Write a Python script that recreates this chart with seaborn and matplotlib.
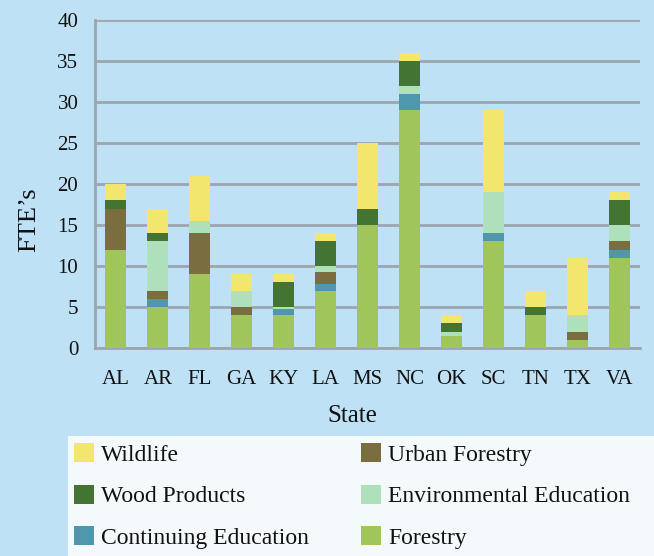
import matplotlib
matplotlib.use("Agg")
import matplotlib.pyplot as plt
import seaborn as sns
import numpy as np
import pandas as pd
from matplotlib.patches import Patch, Rectangle

states = ["AL", "AR", "FL", "GA", "KY", "LA", "MS", "NC", "OK", "SC", "TN", "TX", "VA"]
forestry =      [12, 5, 9, 4, 4, 7, 15, 29, 1.5, 13, 4, 1, 11]
continuing_ed = [0, 1, 0, 0, 0.7, 0.8, 0, 2, 0, 1, 0, 0, 1]
urban =         [5, 1, 5, 1, 0, 1.5, 0, 0, 0, 0, 0, 1, 1]
env_ed =        [0, 6, 1.5, 2, 0.3, 0.7, 0, 1, 0.5, 5, 0, 2, 2]
wood =          [1, 1, 0, 0, 3, 3, 2, 3, 1, 0, 1, 0, 3]
wildlife =      [2, 3, 5.5, 2, 1, 1, 8, 1, 1, 10, 2, 7, 1]

series = [
    ("Forestry", forestry, "#a0c55a"),
    ("Continuing Education", continuing_ed, "#4e97ad"),
    ("Urban Forestry", urban, "#7a6e40"),
    ("Environmental Education", env_ed, "#aee0bb"),
    ("Wood Products", wood, "#437434"),
    ("Wildlife", wildlife, "#f3e66e"),
]

bg = "#bfe1f6"
sns.set_theme(style="white")
plt.rcParams["font.family"] = ["Liberation Serif", "DejaVu Serif"]

W, H = 654, 556
fig = plt.figure(figsize=(6.54, 5.56), dpi=100, facecolor=bg)
ax = fig.add_axes([95 / W, 1 - 348 / H, 545 / W, 328 / H])
ax.set_facecolor(bg)

bottom = np.zeros(len(states))
for name, vals, col in series:
    df = pd.DataFrame({"State": states, "FTE": vals})
    sns.barplot(data=df, x="State", y="FTE", order=states, color=col,
                width=0.5, bottom=bottom.copy(), ax=ax, saturation=1,
                errorbar=None, edgecolor="none", zorder=3)
    bottom = bottom + np.array(vals, dtype=float)

ax.set_ylim(0, 40)
ax.set_xlim(-0.5, len(states) - 0.5)
ax.set_yticks(range(0, 41, 5))
ax.yaxis.grid(True, color="#9ca6ae", linewidth=2, zorder=0)
ax.set_axisbelow(True)
for s in ["top", "right"]:
    ax.spines[s].set_visible(False)
for s in ["left", "bottom"]:
    ax.spines[s].set_color("#9ca6ae")
    ax.spines[s].set_linewidth(2)
ax.tick_params(axis="y", labelsize=15, colors="#111111", length=0, pad=12)
ax.tick_params(axis="x", labelsize=15, colors="#111111", length=0, pad=16)
ax.set_xlabel("State", fontsize=18, color="#111111")
ax.set_ylabel("FTE’s", fontsize=19, color="#111111")
ax.xaxis.set_label_coords(0.472, -0.175)
ax.yaxis.set_label_coords(-0.101, 0.39)

# legend panel
fig.patches.append(Rectangle((68 / W, 0), 1 - 68 / W, 120 / H,
                             transform=fig.transFigure, facecolor="#f4f9fc",
                             edgecolor="none", zorder=0))

legend_order = ["Wildlife", "Wood Products", "Continuing Education",
                "Urban Forestry", "Environmental Education", "Forestry"]
cmap = {n: c for n, _, c in series}
handles = [Patch(facecolor=cmap[n], edgecolor="none", label=n) for n in legend_order]
leg = fig.legend(handles=handles, loc="center left", ncol=2,
                 bbox_to_anchor=(74 / W, 1 - 496 / H),
                 fontsize=17, frameon=False, borderaxespad=0, borderpad=0,
                 handlelength=0.85, handleheight=0.85, labelspacing=0.8,
                 handletextpad=0.3, columnspacing=2.2)
for t in leg.get_texts():
    t.set_color("#111111")

fig.savefig("out.png", dpi=100, facecolor=bg)
